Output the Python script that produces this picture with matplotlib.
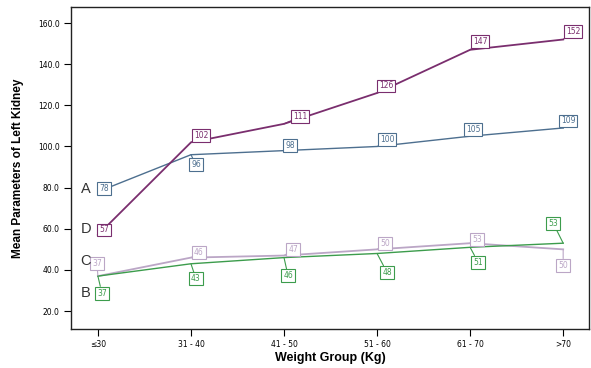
import matplotlib
matplotlib.use("Agg")
import matplotlib.pyplot as plt

categories = ["≤30", "31 - 40", "41 - 50", "51 - 60", "61 - 70", ">70"]
series_A = [78, 96, 98, 100, 105, 109]
series_D = [57, 102, 111, 126, 147, 152]
series_C = [37, 46, 47, 50, 53, 50]
series_B = [37, 43, 46, 48, 51, 53]
series_names = ["A", "D", "C", "B"]

colors = {"A": "#4d6f8f", "D": "#7a2e6e", "C": "#bba6c6", "B": "#3c9c4c"}
lws = {"A": 1.0, "D": 1.3, "C": 1.3, "B": 1.0}
# label offsets in pixels (dx, dy)
offsets = {
    "A": [(6, 3), (5, -10), (6, 5), (10, 7), (3, 7), (5, 7)],
    "D": [(6, 5), (10, 7), (16, 7), (9, 7), (10, 8), (10, 8)],
    "C": [(-1, 13), (8, 5), (9, 6), (8, 6), (7, 4), (0, -16)],
    "B": [(4, -17), (5, -15), (4, -18), (10, -19), (8, -15), (-10, 20)],
}
letter_offsets = {"A": (-12, 3), "D": (-12, 6), "C": (-12, 15), "B": (-12, -17)}

data = {"A": series_A, "D": series_D, "C": series_C, "B": series_B}

fig = plt.figure(figsize=(5.91, 3.68), dpi=100)
ax = fig.add_axes([0.120, 0.106, 0.877, 0.875])
x = list(range(len(categories)))

for name in series_names:
    vals = data[name]
    c = colors[name]
    ax.plot(x, vals, color=c, lw=lws[name], zorder=2)
    for i, v in enumerate(vals):
        dx, dy = offsets[name][i]
        ax.annotate(str(v), xy=(i, v), xytext=(dx, dy), textcoords="offset pixels",
                    ha="center", va="center", fontsize=5.5, color=c,
                    family="DejaVu Sans",
                    bbox=dict(boxstyle="square,pad=0.25", fc="white", ec=c, lw=0.8),
                    arrowprops=dict(arrowstyle="-", color=c, lw=0.8, shrinkA=0, shrinkB=0),
                    zorder=3)
    ldx, ldy = letter_offsets[name]
    ax.annotate(name, xy=(0, vals[0]), xytext=(ldx, ldy), textcoords="offset pixels",
                ha="center", va="center", fontsize=10.5, color="#333333",
                family="Liberation Sans")

ax.set_xlim(-0.29, 5.28)
ax.set_ylim(11.3, 167.8)
ax.set_xticks(x)
ax.set_xticklabels(categories, fontsize=5.5, family="DejaVu Sans")
ax.set_yticks([20, 40, 60, 80, 100, 120, 140, 160])
ax.set_yticklabels(["%.1f" % t for t in [20, 40, 60, 80, 100, 120, 140, 160]], fontsize=5.5)
ax.tick_params(direction="out", length=5, width=0.8, pad=3)
for s in ax.spines.values():
    s.set_linewidth(1.0)
    s.set_color("#222222")
ax.set_xlabel("Weight Group (Kg)", fontsize=9, fontweight="bold", labelpad=2,
              family="Liberation Sans")
ax.set_ylabel("Mean Parameters of Left Kidney", fontsize=8.5, fontweight="bold",
              labelpad=10, family="Liberation Sans")

fig.savefig("out.png", dpi=100)
